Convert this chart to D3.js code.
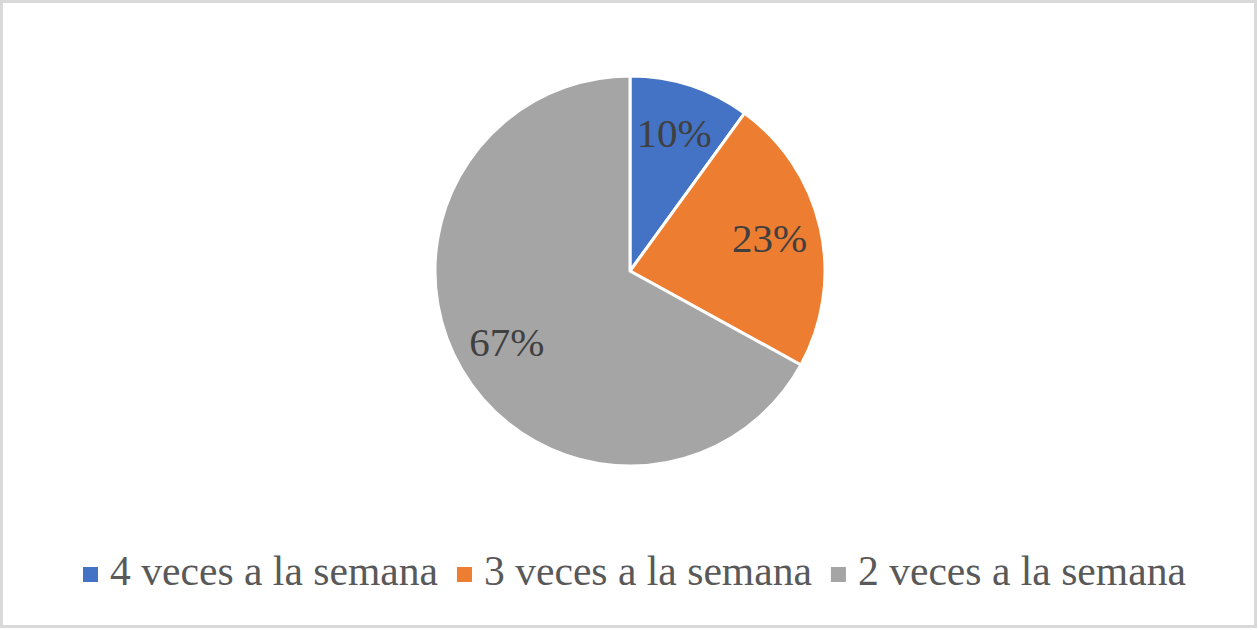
<!DOCTYPE html>
<html><head><meta charset="utf-8">
<script src="https://cdn.jsdelivr.net/npm/d3@7"></script>
<style>body{margin:0;background:#fff}svg{display:block}
.serif{font-family:"Liberation Serif","Times New Roman",serif}</style>
</head><body>
<svg id="c" width="1259" height="630"></svg>
<script>
const categories = ["4 veces a la semana", "3 veces a la semana", "2 veces a la semana"];
const values = [10, 23, 67];
const labels = ["10%", "23%", "67%"];
const colors = ["#4472C4", "#ED7D31", "#A5A5A5"];

const svg = d3.select("#c");
svg.append("rect").attr("x", 1.5).attr("y", 1.5).attr("width", 1254).attr("height", 625)
  .attr("fill", "#fff").attr("stroke", "#d9d9d9").attr("stroke-width", 3);

const cx = 630, cy = 271, R = 195;
const pie = d3.pie().sort(null).value(d => d)(values);
const arc = d3.arc().innerRadius(0).outerRadius(R);
const labelArc = d3.arc().innerRadius(143).outerRadius(143);
const g = svg.append("g").attr("transform", `translate(${cx},${cy})`);
g.selectAll("path").data(pie).join("path")
  .attr("d", arc).attr("fill", (d, i) => colors[i])
  .attr("stroke", "#fff").attr("stroke-width", 3).attr("stroke-linejoin", "round");
g.selectAll("text").data(pie).join("text")
  .attr("class", "serif")
  .attr("transform", d => `translate(${labelArc.centroid(d)})`)
  .attr("text-anchor", "middle").attr("dy", "0.3em")
  .attr("font-size", 41).attr("fill", "#404040")
  .text((d, i) => labels[i]);

// legend
const lg = svg.append("g");
let x = 83;
const base = 585;
categories.forEach((c, i) => {
  lg.append("rect").attr("x", x).attr("y", 567).attr("width", 15).attr("height", 15).attr("fill", colors[i]);
  const t = lg.append("text").attr("class", "serif").attr("x", x + 27).attr("y", base)
    .attr("font-size", 41.6).attr("fill", "#595959").text(c);
  const w = t.node().getComputedTextLength();
  x = x + 27 + w + 19;
});
</script>
</body></html>
